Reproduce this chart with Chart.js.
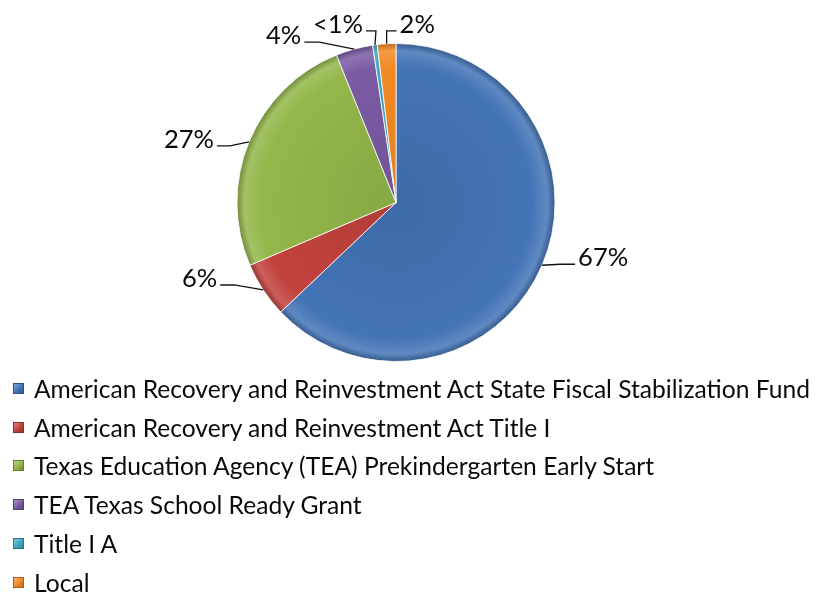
<!DOCTYPE html>
<html>
<head>
<meta charset="utf-8">
<script src="https://cdn.jsdelivr.net/npm/chart.js@4.4.0/dist/chart.umd.min.js"></script>
<style>
  body { margin: 0; background: #fff; }
  #wrap { position: relative; width: 817px; height: 592px; overflow: hidden; }
  #pie { position: absolute; left: 0; top: 0; }
  #legend { position: absolute; left: 13px; top: 369px; font-family: Lato, "Open Sans", sans-serif; font-size: 24.6px; color: #0a0a0a; }
  .row { height: 38.8px; display: flex; align-items: center; white-space: nowrap; }
  .box { width: 11px; height: 11px; margin-right: 10px; box-sizing: border-box; }
</style>
</head>
<body>
<div id="wrap">
  <canvas id="pie" width="817" height="370"></canvas>
  <div id="legend"></div>
</div>

<script type="text/javascript">
    // funding sources, clockwise from 12 o'clock
    var categories = [
        "American Recovery and Reinvestment Act State Fiscal Stabilization Fund",
        "American Recovery and Reinvestment Act Title I",
        "Texas Education Agency (TEA) Prekindergarten Early Start",
        "TEA Texas School Ready Grant",
        "Title I A",
        "Local"
    ];
    var shares = [67, 6, 27, 4, 0.5, 2];
    var shareLabels = ["67%", "6%", "27%", "4%", "<1%", "2%"];
    var colors = ["#4374B6", "#C2423E", "#93B74A", "#7B5BA3", "#3FA8C3", "#F28B25"];

    // where each label sits relative to its slice edge: [dx, dy, elbow run]
    var labelOffsets = [[33, -1, 15], [-43, -5, 14], [-32, 4, 13], [-50, -7, 15], [-9, -14, 10], [10, -13, 10]];

    var shade = function(hex, f){
        var n = parseInt(hex.slice(1), 16);
        var r = (n >> 16) & 255, g = (n >> 8) & 255, b = n & 255;
        var t = f < 0 ? 0 : 255, p = Math.abs(f);
        r = Math.round((t - r) * p + r);
        g = Math.round((t - g) * p + g);
        b = Math.round((t - b) * p + b);
        return "rgb(" + r + "," + g + "," + b + ")";
    };

    var bevelFill = function(ctx){
        var base = colors[ctx.dataIndex];
        var a = ctx.chart.chartArea;
        if(!a) return base;
        var cx = (a.left + a.right) / 2, cy = (a.top + a.bottom) / 2;
        var r = Math.min(a.right - a.left, a.bottom - a.top) / 2;
        var g = ctx.chart.ctx.createRadialGradient(cx, cy, 0, cx, cy, r);
        g.addColorStop(0, shade(base, -0.08));
        g.addColorStop(0.85, base);
        g.addColorStop(0.95, shade(base, 0.15));
        g.addColorStop(1, shade(base, -0.25));
        return g;
    };

    var leaderLabels = {
        id: "leaderLabels",
        afterDatasetsDraw: function(chart){
            var c = chart.ctx;
            var arcs = chart.getDatasetMeta(0).data;
            c.save();
            c.font = "25.5px Lato, 'Open Sans', sans-serif";
            c.fillStyle = "#0a0a0a";
            c.strokeStyle = "#111";
            c.lineWidth = 1.3;
            c.textBaseline = "middle";
            for(var i = 0; i < arcs.length; i++){
                var p = arcs[i].getProps(["x", "y", "startAngle", "endAngle", "outerRadius"], true);
                var mid = (p.startAngle + p.endAngle) / 2;
                var rx = p.x + p.outerRadius * Math.cos(mid);
                var ry = p.y + p.outerRadius * Math.sin(mid);
                var o = labelOffsets[i];
                var ex = rx + o[0], ey = ry + o[1];
                var dir = o[0] >= 0 ? 1 : -1;
                var elx = ex - dir * o[2];
                c.beginPath();
                c.moveTo(rx, ry);
                c.lineTo(elx, ey);
                c.lineTo(ex, ey);
                c.stroke();
                c.textAlign = dir > 0 ? "left" : "right";
                c.fillText(shareLabels[i], ex + dir * 3, ey - 6);
            }
            c.restore();
        }
    };

    var chart = new Chart(document.getElementById("pie").getContext("2d"), {
        type: "pie",
        data: {
            labels: categories,
            datasets: [{
                data: shares,
                backgroundColor: bevelFill,
                borderColor: "rgba(255,255,255,0.8)",
                borderWidth: 1
            }]
        },
        options: {
            responsive: false,
            animation: false,
            layout: { padding: { top: 43, bottom: 8, left: 0, right: 25 } },
            plugins: {
                legend: { display: false },
                tooltip: { enabled: false }
            }
        },
        plugins: [leaderLabels]
    });

    // legend, one source per row
    var legend = document.getElementById("legend");
    for(var i = 0; i < categories.length; i++){
        var row = document.createElement("div");
        row.className = "row";
        var box = document.createElement("span");
        box.className = "box";
        box.style.background = "linear-gradient(135deg," + shade(colors[i], 0.35) + "," + colors[i] + " 55%," + shade(colors[i], -0.25) + ")";
        box.style.border = "1px solid " + shade(colors[i], -0.3);
        var txt = document.createElement("span");
        txt.textContent = categories[i];
        row.appendChild(box);
        row.appendChild(txt);
        legend.appendChild(row);
    }
</script>
</body>
</html>
